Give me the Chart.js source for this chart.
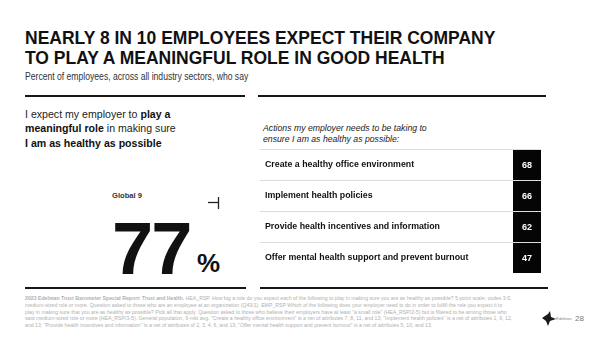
<!DOCTYPE html>
<html>
<head>
<meta charset="utf-8">
<script src="https://cdn.jsdelivr.net/npm/chart.js@4.4.0/dist/chart.umd.min.js"></script>
<style>
  html, body { margin: 0; padding: 0; background: #fff; }
  body { width: 600px; height: 337px; position: relative; overflow: hidden;
         font-family: "Liberation Sans", Arial, sans-serif; color: #111; }
  .abs { position: absolute; white-space: nowrap; }
  .rule { position: absolute; height: 2px; background: #161616; }
  #title { left: 25px; top: 28px; font-size: 17.5px; line-height: 20px; font-weight: bold; }
  #subtitle { left: 25px; top: 71px; font-size: 10px; line-height: 12px; color: #333;
              transform: scaleX(0.86); transform-origin: 0 0; }
  #lead { left: 25px; top: 107px; font-size: 10.6px; line-height: 14.3px; color: #222; }
  #lead b { color: #111; }
  #region { left: 112px; top: 191px; font-size: 7.6px; line-height: 9px; font-weight: bold; color: #333; }
  #big { left: 112px; top: 212px; font-size: 74px; line-height: 74px; font-weight: bold; letter-spacing: -2px; }
  #pct { left: 197px; top: 250px; font-size: 26px; line-height: 26px; font-weight: bold; }
  #prompt { left: 263px; top: 123px; font-size: 8.7px; line-height: 10.5px; font-style: italic; color: #222; }
  #rows { position: absolute; left: 260px; top: 149px; width: 281px; height: 124px; }
  #note { left: 25px; top: 295px; width: 488px; white-space: normal; font-size: 5.2px; line-height: 6.8px; color: #b0b0b0; }
  #page { left: 575px; top: 314px; font-size: 8px; color: #777; }
  #brand { left: 556px; top: 316px; font-size: 4px; color: #888; }
</style>
</head>
<body>
<div class="abs" id="title">NEARLY 8 IN 10 EMPLOYEES EXPECT THEIR COMPANY<br>TO PLAY A MEANINGFUL ROLE IN GOOD HEALTH</div>
<div class="abs" id="subtitle">Percent of employees, across all industry sectors, who say</div>

<div class="rule" style="left:25px; top:95px; width:220px;"></div>
<div class="rule" style="left:258px; top:95px; width:288px;"></div>

<div class="abs" id="lead">I expect my employer to <b>play a</b><br><b>meaningful role</b> in making sure<br><b>I am as healthy as possible</b></div>

<div class="abs" id="region"></div>
<svg class="abs" style="left:206px; top:196px;" width="14" height="14">
  <line x1="2" y1="6.5" x2="12" y2="6.5" stroke="#222" stroke-width="1.3"/>
  <line x1="12.5" y1="1" x2="12.5" y2="13" stroke="#222" stroke-width="1.3"/>
</svg>
<div class="abs" id="big"></div>
<div class="abs" id="pct">%</div>

<div class="abs" id="prompt">Actions my employer needs to be taking to<br>ensure I am as healthy as possible:</div>
<div id="rows"><canvas id="actions"></canvas></div>

<div class="rule" style="left:25px; top:287px; width:221px;"></div>
<div class="rule" style="left:260px; top:287px; width:288px;"></div>

<div class="abs" id="note"><b>2023 Edelman Trust Barometer Special Report: Trust and Health.</b> HEA_RSP. How big a role do you expect each of the following to play in making sure you are as healthy as possible? 5-point scale; codes 3-5, medium-sized role or more. Question asked to those who are an employee at an organization (Q43/1). EMP_RSP Which of the following does your employer need to do in order to fulfill the role you expect it to play in making sure that you are as healthy as possible? Pick all that apply. Question asked to those who believe their employers have at least "a small role" (HEA_RSP/2-5) but is filtered to be among those who said medium-sized role or more (HEA_RSP/3-5). General population, 9-mkt avg. "Create a healthy office environment" is a net of attributes 7, 8, 11, and 13; "Implement health policies" is a net of attributes 1, 9, 12, and 13; "Provide health incentives and information" is a net of attributes of 2, 3, 4, 6, and 13; "Offer mental health support and prevent burnout" is a net of attributes 5, 10, and 13.</div>

<svg class="abs" style="left:541px; top:311px;" width="16" height="16">
  <polygon points="1,7 7,3 9,0 10,6 15,8 9,10 7,15 5,10" fill="#1a1a1a"/>
</svg>
<div class="abs" id="brand">Edelman</div>
<div class="abs" id="page">28</div>

<script>
// headline figure
var overallRegion = "Global 9";
var overallShare = 77;

// actions employees want, % who chose each
var actions = [
  "Create a healthy office environment",
  "Implement health policies",
  "Provide health incentives and information",
  "Offer mental health support and prevent burnout",
];
var shares = [68, 66, 62, 47];

document.getElementById("region").textContent = overallRegion;
document.getElementById("big").textContent = overallShare;

// black value cell on the right of every row
var valueCells = {
  id: "valueCells",
  afterDatasetsDraw: function (chart) {
    var ctx = chart.ctx;
    var area = chart.chartArea;
    var meta = chart.getDatasetMeta(0);
    var cellW = 28;
    ctx.save();
    meta.data.forEach(function (bar, i) {
      var top = bar.y - bar.height / 2;
      ctx.fillStyle = "#050505";
      ctx.fillRect(area.right - cellW, top + 1, cellW, bar.height - 1);
      ctx.fillStyle = "#fff";
      ctx.font = "bold 9px 'Liberation Sans', Arial, sans-serif";
      ctx.textAlign = "center";
      ctx.textBaseline = "middle";
      ctx.fillText(chart.data.datasets[0].data[i], area.right - cellW / 2, bar.y + 1);
    });
    ctx.restore();
  },
};

var ctx = document.getElementById("actions").getContext("2d");
var myChart = new Chart(ctx, {
  type: "bar",
  data: {
    labels: actions,
    datasets: [
      {
        label: "% of employees",
        data: shares,
        backgroundColor: "rgba(0, 0, 0, 0)",
        barPercentage: 1,
        categoryPercentage: 1,
      },
    ],
  },
  options: {
    indexAxis: "y",
    responsive: true,
    maintainAspectRatio: false,
    animation: false,
    layout: { padding: 0 },
    plugins: { legend: { display: false }, tooltip: { enabled: false } },
    scales: {
      x: { display: false, min: 0, max: 100 },
      y: {
        border: { display: false },
        grid: { color: "#dcdcdc", lineWidth: 1, drawTicks: false, offset: true },
        ticks: {
          mirror: true,
          padding: 5,
          color: "#111",
          font: { family: "'Liberation Sans', Arial, sans-serif", size: 8.8, weight: "bold" },
        },
        // mirrored labels sit inside the rows, so the axis needs no room
        afterFit: function (scale) {
          scale.width = 0;
          scale.paddingTop = 0;
          scale.paddingBottom = 0;
        },
      },
    },
  },
  plugins: [valueCells],
});
</script>
</body>
</html>
